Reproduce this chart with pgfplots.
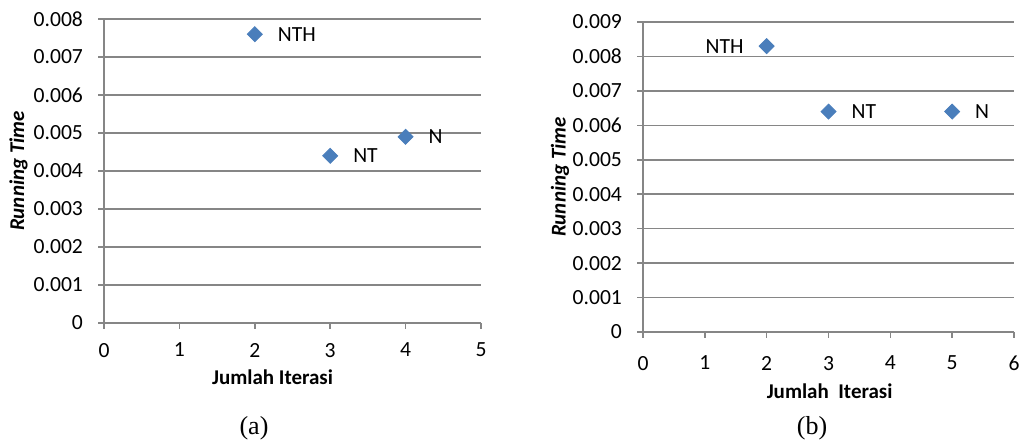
\documentclass[border=0pt]{standalone}
\usepackage{fontspec}
\setmainfont{Carlito}
\newfontfamily\timesf{Liberation Serif}
\usepackage{pgfplots}
\usepackage{pgfplotstable}
\pgfplotsset{compat=1.18}
\definecolor{gridgray}{RGB}{134,134,134}
\definecolor{markblue}{RGB}{74,126,187}

\pgfplotstableread{
x y label
2 0.0076 NTH
3 0.0044 NT
4 0.0049 N
}\dataA
\pgfplotstableread{
x y label
3 0.0064 NT
5 0.0064 N
}\dataBright
\pgfplotstableread{
x y label
2 0.0083 NTH
}\dataBleft

\pgfplotsset{
  excelstyle/.style={
    scale only axis,
    axis x line*=bottom, axis y line*=left,
    axis line style={gridgray, line width=1pt, -},
    ymajorgrids, grid style={gridgray, line width=0.8pt},
    tick style={gridgray, line width=0.8pt},
    tick align=outside, major tick length=3pt,
    xtick pos=bottom, ytick pos=left,
    xmin=0, ymin=0,
    /pgf/number format/assume math mode=true,
    tick label style={font=\fontsize{10.8}{12}\selectfont, text=black},
    yticklabel style={/pgf/number format/fixed, /pgf/number format/precision=3, xshift=-4pt},
    scaled y ticks=false,
    label style={font=\fontsize{10.5}{12}\selectfont\bfseries, text=black},
    ylabel style={font=\fontsize{10.5}{12}\selectfont\bfseries\itshape},
  },
  diam/.style={only marks, mark=square*, mark size=2.65pt,
    mark options={rotate=45, fill=markblue, draw=markblue},
    point meta=explicit symbolic, nodes near coords,
    nodes near coords style={font=\fontsize{10.8}{12}\selectfont, text=black}},
}

\begin{document}
\begin{tikzpicture}
\useasboundingbox (0,0) rectangle (511pt,221.5pt);

\begin{axis}[excelstyle,
  at={(52pt,60pt)}, anchor=south west,
  width=188.5pt, height=152pt,
  xmax=5, ymax=0.008,
  xtick={0,1,2,3,4,5},
  ytick={0,0.001,0.002,0.003,0.004,0.005,0.006,0.007,0.008},
  xticklabel style={yshift=-3.5pt},
  xlabel={Jumlah Iterasi},
  xlabel style={at={(axis description cs:0.447,0)}, anchor=center, yshift=-27pt},
  ylabel={Running Time},
  ylabel style={at={(axis description cs:-0.2268,0.5)}, anchor=center, rotate=0},
]
\addplot[diam, nodes near coords style={anchor=west, xshift=8pt}] table[x=x, y=y, meta=label] {\dataA};
\end{axis}

\begin{axis}[excelstyle,
  at={(321.5pt,55.5pt)}, anchor=south west,
  width=185.5pt, height=155pt,
  xmax=6, ymax=0.009,
  xtick={0,1,2,3,4,5,6},
  ytick={0,0.001,0.002,0.003,0.004,0.005,0.006,0.007,0.008,0.009},
  xticklabel style={yshift=-5.5pt},
  xlabel={Jumlah\ \ Iterasi},
  xlabel style={at={(axis description cs:0.503,0)}, anchor=center, yshift=-29.5pt},
  ylabel={Running Time},
  ylabel style={at={(axis description cs:-0.2237,0.5)}, anchor=center},
]
\addplot[diam, nodes near coords style={anchor=west, xshift=8pt}] table[x=x, y=y, meta=label] {\dataBright};
\addplot[diam, nodes near coords style={anchor=east, xshift=-8pt}] table[x=x, y=y, meta=label] {\dataBleft};
\end{axis}

\node[font=\timesf\fontsize{13}{15}\selectfont] at (127pt,7.5pt) {(a)};
\node[font=\timesf\fontsize{13}{15}\selectfont] at (406pt,7.5pt) {(b)};
\end{tikzpicture}
\end{document}
